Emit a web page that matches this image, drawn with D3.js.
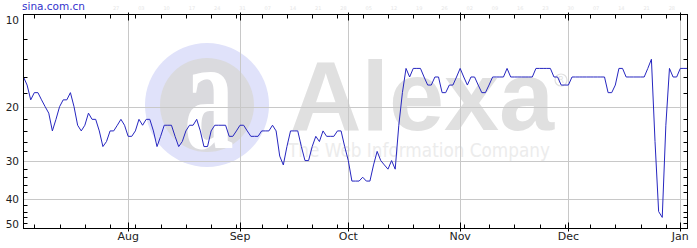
<!DOCTYPE html>
<html>
<head>
<meta charset="utf-8">
<script src="https://cdn.jsdelivr.net/npm/d3@7"></script>
<style>
  html, body { margin: 0; padding: 0; background: #fff; }
  #chart-container { width: 697px; height: 248px; }
  text { font-family: "DejaVu Sans", Verdana, sans-serif; }
</style>
</head>
<body>
<div id="chart-container"></div>
<script>
const width = 697;
const height = 248;

const siteName = "sina.com.cn";
const firstDay = new Date(2008, 6, 3);
const lastDay = new Date(2009, 0, 3);

// daily traffic rank, one array per month
const julRanks = [16, 17, 19, 18, 18, 19, 20, 21, 24, 22, 20, 19, 19, 18, 20, 23, 24, 23, 21, 22, 22, 24, 27, 26, 24, 24, 23, 22, 23];
const augRanks = [25, 25, 24, 22, 23, 22, 22, 24, 27, 25, 23, 23, 23, 25, 27, 26, 24, 23, 23, 22, 24, 27, 27, 24, 23, 23, 23, 23, 25, 25, 24];
const sepRanks = [23, 23, 24, 25, 25, 25, 24, 24, 24, 23, 24, 29, 31, 27, 24, 24, 24, 27, 30, 30, 27, 25, 26, 24, 25, 25, 25, 24, 24, 27];
const octRanks = [30, 35, 35, 35, 34, 35, 35, 31, 28, 30, 31, 32, 30, 32, 23, 18, 15, 16, 15, 15, 15, 16, 17, 17, 16, 16, 18, 18, 17, 17, 16];
const novRanks = [15, 16, 17, 16, 16, 17, 18, 18, 17, 16, 16, 16, 16, 15, 16, 16, 16, 16, 16, 16, 16, 15, 15, 15, 15, 15, 16, 16, 17, 17];
const decRanks = [17, 16, 16, 16, 16, 16, 16, 16, 16, 16, 16, 18, 18, 17, 15, 15, 16, 16, 16, 16, 16, 16, 15, 14, 26, 44, 46, 23, 15, 16, 16];
const janRanks = [15, 15, 15];

const yTickLabels = [10, 20, 30, 40, 50];
const yGridValues = [20, 30, 40];
const yMinorValues = [12, 14, 16, 18, 22, 24, 26, 28, 32, 34, 36, 38, 42, 44, 46, 48];

const colors = {
  line: "#2626c0",
  grid: "#c8c8c8",
  frame: "#000",
  label: "#222",
  title: "#3333cc",
  ring: "#e0e2fa",
  disk: "#dadade",
  logo: "#e0e0e0",
  slogan: "#ececec",
};

const allRanks = [].concat(julRanks, augRanks, sepRanks, octRanks, novRanks, decRanks, janRanks);
const data = allRanks.map((r, i) => ({ date: d3.timeDay.offset(firstDay, i), rank: r }));

const margin = { top: 14.5, right: 9.5, bottom: 19.5, left: 23.5 };

const x = d3.scaleTime()
  .domain([firstDay, lastDay])
  .range([margin.left, width - margin.right]);

const y = d3.scaleLog()
  .domain([10, 50])
  .range([margin.top, height - margin.bottom]);

const svg = d3.select("#chart-container")
  .append("svg")
  .attr("width", width)
  .attr("height", height);

svg.append("rect").attr("width", width).attr("height", height).attr("fill", "#fff");

// watermark
const mark = svg.append("g");
mark.append("circle").attr("cx", 207).attr("cy", 105).attr("r", 62).attr("fill", colors.ring);
mark.append("circle").attr("cx", 207).attr("cy", 105).attr("r", 47).attr("fill", colors.disk);
mark.append("text")
  .attr("transform", "translate(209,148) scale(1.1,1.8)")
  .attr("text-anchor", "middle")
  .style("font-family", "'Liberation Serif', serif")
  .style("font-weight", "bold")
  .attr("font-size", 90)
  .attr("fill", "#fff")
  .text("a");
mark.append("text")
  .attr("x", 290).attr("y", 130)
  .style("font-family", "'Liberation Sans', Arial, sans-serif")
  .style("font-weight", "bold")
  .attr("font-size", 99)
  .attr("fill", colors.logo)
  .text("Alexa");
mark.append("text")
  .attr("x", 288).attr("y", 157)
  .attr("font-size", 19)
  .attr("textLength", 262)
  .attr("lengthAdjust", "spacingAndGlyphs")
  .attr("fill", colors.slogan)
  .text("The Web Information Company");
mark.append("circle").attr("cx", 561).attr("cy", 80).attr("r", 6)
  .attr("fill", "none").attr("stroke", colors.logo).attr("stroke-width", 1.2);
mark.append("text").attr("x", 561).attr("y", 83).attr("text-anchor", "middle")
  .attr("font-size", 8).attr("fill", colors.logo).text("R");

// grid
const months = x.ticks(d3.timeMonth.every(1)).filter((d) => d > firstDay);
const weeks = x.ticks(d3.timeWeek.every(1));

svg.append("g")
  .selectAll("line")
  .data(yGridValues)
  .enter()
  .append("line")
  .attr("x1", margin.left).attr("x2", width - margin.right)
  .attr("y1", (d) => Math.round(y(d)) + 0.5).attr("y2", (d) => Math.round(y(d)) + 0.5)
  .attr("stroke", colors.grid);

svg.append("g")
  .selectAll("line")
  .data(months)
  .enter()
  .append("line")
  .attr("x1", (d) => Math.round(x(d)) + 0.5).attr("x2", (d) => Math.round(x(d)) + 0.5)
  .attr("y1", margin.top).attr("y2", height - margin.bottom)
  .attr("stroke", colors.grid);

// rank line
const line = d3.line()
  .x((d) => x(d.date))
  .y((d) => y(d.rank));

svg.append("path")
  .datum(data)
  .attr("d", line)
  .attr("fill", "none")
  .attr("stroke", colors.line)
  .attr("stroke-width", 1);

// frame + ticks
const yTop = margin.top;
const yBottom = height - margin.bottom;
const xLeft = margin.left;
const xRight = width - margin.right;

svg.append("rect")
  .attr("x", xLeft).attr("y", yTop)
  .attr("width", xRight - xLeft).attr("height", yBottom - yTop)
  .attr("fill", "none").attr("stroke", colors.frame);

const ticks = svg.append("g").attr("stroke", colors.frame);

weeks.forEach((d) => {
  const px = Math.round(x(d)) + 0.5;
  ticks.append("line").attr("x1", px).attr("x2", px).attr("y1", yBottom).attr("y2", yBottom - 4);
  ticks.append("line").attr("x1", px).attr("x2", px).attr("y1", yTop).attr("y2", yTop + 4);
});

months.forEach((d) => {
  const px = Math.round(x(d)) + 0.5;
  ticks.append("line").attr("x1", px).attr("x2", px).attr("y1", yBottom - 6).attr("y2", yBottom + 3);
  ticks.append("line").attr("x1", px).attr("x2", px).attr("y1", yTop - 2).attr("y2", yTop + 6);
});

yMinorValues.forEach((v) => {
  const py = Math.round(y(v)) + 0.5;
  ticks.append("line").attr("x1", xLeft).attr("x2", xLeft + 4).attr("y1", py).attr("y2", py);
  ticks.append("line").attr("x1", xRight).attr("x2", xRight - 4).attr("y1", py).attr("y2", py);
});

// faint day labels over top ticks (kept clear of the title)
svg.append("g")
  .selectAll("text")
  .data(weeks.filter((d) => x(d) > 95))
  .enter()
  .append("text")
  .attr("x", (d) => x(d) + 6)
  .attr("y", 10)
  .attr("text-anchor", "middle")
  .attr("font-size", 5)
  .attr("fill", "#e6e6e6")
  .text(d3.timeFormat("%d"));

// labels
svg.append("g")
  .selectAll("text")
  .data(yTickLabels)
  .enter()
  .append("text")
  .attr("x", 19)
  .attr("y", (d) => Math.min(Math.max(y(d), 20), 224) + 4)
  .attr("text-anchor", "end")
  .attr("font-size", 10.5)
  .attr("fill", colors.label)
  .text((d) => d);

svg.append("g")
  .selectAll("text")
  .data(months)
  .enter()
  .append("text")
  .attr("x", (d) => x(d))
  .attr("y", 240)
  .attr("text-anchor", "middle")
  .attr("font-size", 11)
  .attr("fill", colors.label)
  .text(d3.timeFormat("%b"));

svg.append("text")
  .attr("x", 22)
  .attr("y", 10)
  .attr("font-size", 10.5)
  .attr("fill", colors.title)
  .text(siteName);
</script>
</body>
</html>
